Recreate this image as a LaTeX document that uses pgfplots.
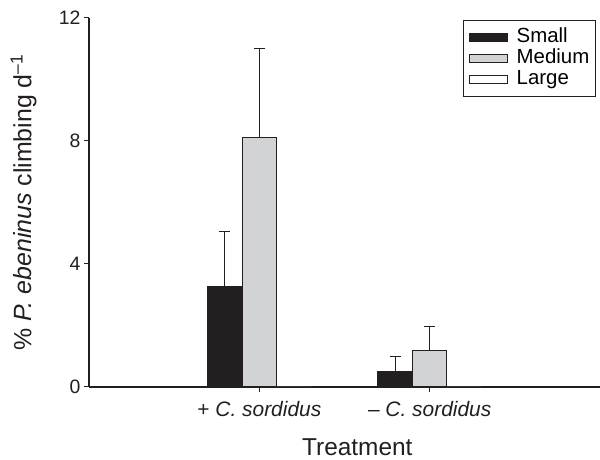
\documentclass[border=0pt]{standalone}
\usepackage{fontspec}
\setmainfont{Liberation Sans}
\usepackage{pgfplots}
\pgfplotsset{compat=1.18}
\definecolor{barblack}{HTML}{231F20}
\definecolor{bargray}{HTML}{D1D3D4}
\begin{document}
\begin{tikzpicture}[x=1bp,y=1bp]
\useasboundingbox (0,0) rectangle (600,460);
\begin{axis}[
  at={(89bp,73bp)}, anchor=south west,
  scale only axis, width=511bp, height=369bp,
  xmin=0, xmax=3, ymin=0, ymax=12,
  axis x line=bottom, axis y line=left,
  axis line style={-, line width=1.2bp, color=barblack},
  xtick={1,2},
  xticklabels={{+ \textit{C. sordidus}}, {– \textit{C. sordidus}}},
  ytick={0,4,8,12},
  tick align=outside, major tick length=5bp,
  tick style={line width=1bp, color=barblack},
  /pgf/number format/assume math mode=true,
  yticklabel style={font=\fontsize{19.5}{21}\selectfont, color=barblack},
  xticklabel style={font=\fontsize{21}{23}\selectfont, color=barblack, yshift=-6bp},
  ylabel={\% \textit{P. ebeninus} climbing d\textsuperscript{–1}},
  xlabel={Treatment},
  label style={color=barblack},
  y label style={font=\fontsize{25}{28}\selectfont, at={(axis description cs:-0.128,0.5)}, anchor=center},
  x label style={font=\fontsize{24.5}{27}\selectfont, at={(axis description cs:0.525,-0.163)}, anchor=center},
  ybar=0pt, bar width=34.5bp,
  clip=false,
  legend cell align=left,
  legend image code/.code={\draw[#1, line width=1bp] (0bp,-4bp) rectangle (38bp,4bp);},
  legend style={at={(axis description cs:0.732,0.9946)}, anchor=north west,
    draw=barblack, line width=1.2bp, font=\fontsize{20.5}{22}\selectfont,
    inner xsep=5bp, inner ysep=6.5bp,
    nodes={inner xsep=1bp, inner ysep=0bp, text height=15.5bp, text depth=5.5bp},
    /tikz/every odd column/.append style={column sep=8bp},
    row sep=0pt},
]
\addplot+[fill=barblack, draw=barblack, line width=1bp,
  error bars/.cd, y dir=plus, y explicit,
  error bar style={line width=1bp, color=barblack},
  error mark options={rotate=90, mark size=5.5bp, line width=1bp, color=barblack}]
  coordinates {(1,3.26) +- (0,1.81) (2,0.50) +- (0,0.49)};
\addplot+[fill=bargray, draw=barblack, line width=1bp,
  error bars/.cd, y dir=plus, y explicit,
  error bar style={line width=1bp, color=barblack},
  error mark options={rotate=90, mark size=5.5bp, line width=1bp, color=barblack}]
  coordinates {(1,8.11) +- (0,2.90) (2,1.20) +- (0,0.78)};
\addplot+[fill=white, draw=barblack, line width=1bp]
  coordinates {(1,0) (2,0)};
\legend{Small, Medium, Large}
\end{axis}
\end{tikzpicture}
\end{document}
